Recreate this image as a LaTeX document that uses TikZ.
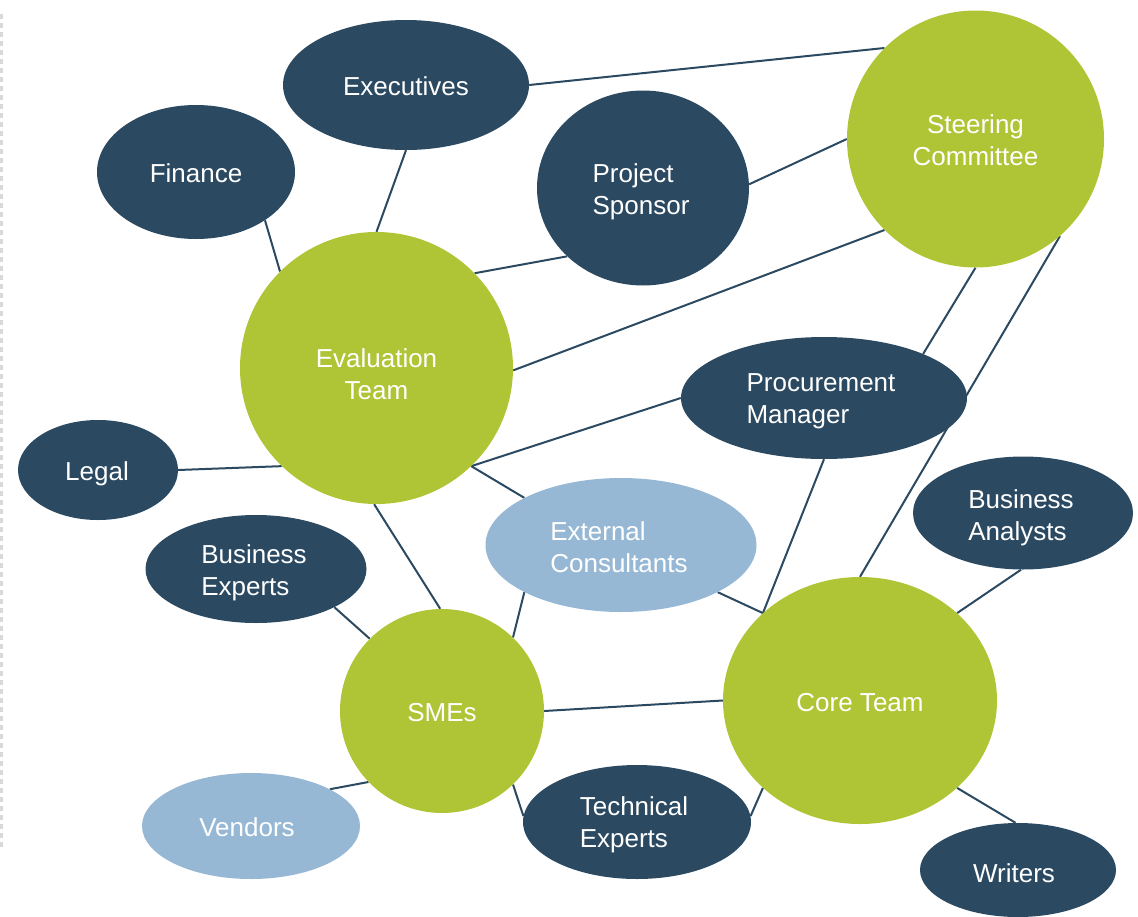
\documentclass[tikz,border=0pt]{standalone}
\usepackage{fontspec}
\setmainfont{Liberation Sans}
\usetikzlibrary{shapes.geometric,backgrounds}
\definecolor{navy}{HTML}{2B4A62}
\definecolor{lime}{HTML}{B0C535}
\definecolor{sky}{HTML}{97B8D4}
\begin{document}
\begin{tikzpicture}[x=1pt,y=-1pt,
  base/.style={ellipse,inner sep=0pt},
  darkell/.style={base,fill=navy},
  lightell/.style={base,fill=sky},
  greenell/.style={base,fill=lime},
  txtl/.style={inner sep=0pt,text=white,font=\fontsize{26}{32}\selectfont,align=left},
  txtc/.style={txtl,align=center},
  link/.style={draw=navy,line width=2pt},
  frame/.style={draw=gray!30,line width=3pt,dash pattern=on 5pt off 4pt}]
\useasboundingbox (0,0) rectangle (1138,916);
\coordinate (ftop) at (1.5,14);
\coordinate (fbot) at (1.5,848);
\draw[frame] (ftop) -- (fbot);

\node[darkell,minimum width=246,minimum height=130] (exec) at (406,85) {};
\node[darkell,minimum width=198,minimum height=134] (fin) at (196,172) {};
\node[darkell,minimum width=212,minimum height=195] (spon) at (643,188) {};
\node[greenell,minimum width=257,minimum height=257] (steer) at (975.5,139) {};
\node[greenell,minimum width=273,minimum height=272] (eval) at (376.5,368) {};
\node[darkell,minimum width=160,minimum height=100] (legal) at (98,470) {};
\node[darkell,minimum width=286,minimum height=122] (proc) at (824,398) {};
\node[darkell,minimum width=220,minimum height=113] (ba) at (1023,513) {};
\node[lightell,minimum width=271,minimum height=134] (ext) at (621,545) {};
\node[darkell,minimum width=221,minimum height=108] (be) at (256,569) {};
\node[greenell,minimum width=204,minimum height=204] (sme) at (442,711) {};
\node[greenell,minimum width=274,minimum height=247] (core) at (860,700.5) {};
\node[lightell,minimum width=218,minimum height=106] (ven) at (251,826) {};
\node[darkell,minimum width=228,minimum height=114] (tech) at (637,822) {};
\node[darkell,minimum width=196,minimum height=94] (wri) at (1018,870) {};

\node[txtl] (exect) at ([shift={(0,1)}]exec.center) {Executives};
\node[txtl] (fint) at ([shift={(0,1)}]fin.center) {Finance};
\node[txtl] (spont) at ([shift={(-2,4)}]spon.center) {Project\\Sponsor};
\node[txtc] (steert) at ([shift={(0,1)}]steer.center) {Steering\\Committee};
\node[txtc] (evalt) at ([shift={(0,6)}]eval.center) {Evaluation\\Team};
\node[txtl] (legalt) at ([shift={(-1,4)}]legal.center) {Legal};
\node[txtl] (proct) at ([shift={(-3,3)}]proc.center) {Procurement\\Manager};
\node[txtl] (bat) at ([shift={(-2,5)}]ba.center) {Business\\Analysts};
\node[txtl] (extt) at ([shift={(-2,2)}]ext.center) {External\\Consultants};
\node[txtl] (bet) at ([shift={(-2,4)}]be.center) {Business\\Experts};
\node[txtc] (smet) at ([shift={(0,2)}]sme.center) {SMEs};
\node[txtc] (coret) at ([shift={(0,2)}]core.center) {Core Team};
\node[txtl] (vent) at ([shift={(-4,1)}]ven.center) {Vendors};
\node[txtl] (techt) at ([shift={(-3,3)}]tech.center) {Technical\\Experts};
\node[txtl] (writ) at ([shift={(-4,3)}]wri.center) {Writers};

\begin{pgfonlayer}{background}
\draw[link] (exec.0) -- (steer.135.6);
\draw[link] (exec.-90) -- (eval.90);
\draw[link] (fin.-35) -- (eval.135);
\draw[link] (spon.2) -- (steer.180);
\draw[link] (spon.222) -- (eval.44);
\draw[link] (eval.-1) -- (steer.225);
\draw[link] (steer.-90) -- (proc.24);
\draw[link] (steer.-49) -- (core.90);
\draw[link] (eval.-46) -- (proc.180);
\draw[link] (eval.-46) -- (ext.154);
\draw[link] (legal.0) -- (eval.226);
\draw[link] (eval.-91) -- (sme.91);
\draw[link] (proc.-90) -- (core.138);
\draw[link] (ext.-26) -- (core.138);
\draw[link] (ext.206) -- (sme.46);
\draw[link] (be.-26) -- (sme.135);
\draw[link] (sme.0) -- (core.180);
\draw[link] (ba.-92) -- (core.42);
\draw[link] (ven.25) -- (sme.224);
\draw[link] (sme.-46) -- (tech.177);
\draw[link] (tech.3) -- (core.222);
\draw[link] (core.-42) -- (wri.93);
\end{pgfonlayer}
\end{tikzpicture}
\end{document}
